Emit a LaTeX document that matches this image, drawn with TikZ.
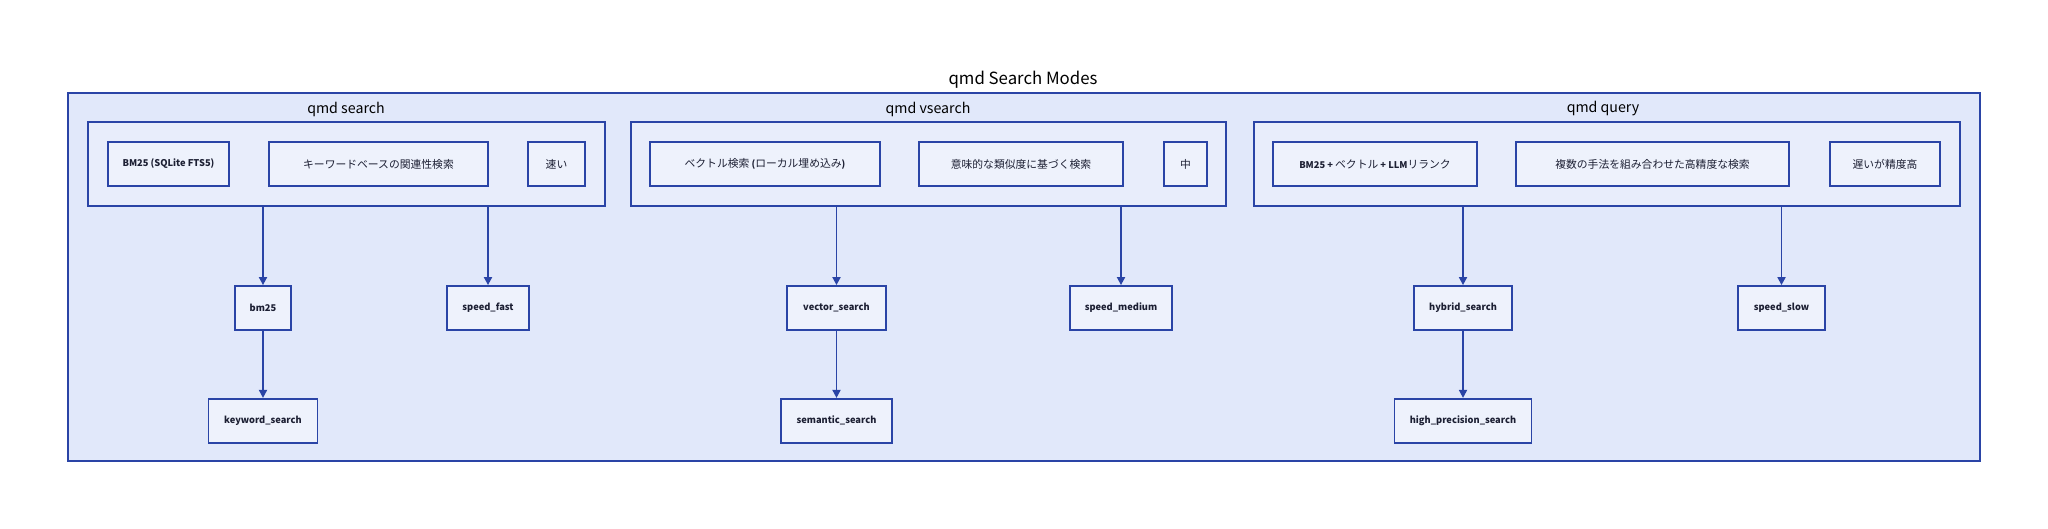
\documentclass[tikz,border=0pt]{standalone}
\usepackage{fontspec}
\setmainfont{Noto Sans CJK JP}
\usetikzlibrary{positioning, arrows.meta}

\definecolor{modeline}{HTML}{2A44A6}
\definecolor{modefill}{HTML}{E1E8FA}
\definecolor{groupfill}{HTML}{E8EDFB}
\definecolor{itemfill}{HTML}{EEF2FC}
\definecolor{itemtext}{HTML}{1C1F33}

\newcommand{\latin}[1]{{\fontsize{4.65}{6}\selectfont\bfseries #1}}

\begin{document}
\begin{tikzpicture}[x=0.5pt, y=-0.5pt,
    item/.style={draw=modeline, fill=itemfill, line width=0.9pt, minimum height=22pt, inner sep=0pt, text=itemtext, font=\fontsize{5.4}{7}\selectfont},
    result/.style={item, font=\fontsize{4.65}{6}\selectfont\bfseries},
    group/.style={draw=modeline, fill=groupfill, line width=0.9pt, minimum height=42pt, inner sep=0pt},
    grouplabel/.style={text=black, font=\fontsize{7.1}{8}\selectfont},
    link/.style={draw=modeline, line width=0.9pt, -{Triangle[length=4pt, width=4pt]}}]
    \useasboundingbox (0,0) rectangle (2048,529);

    \node[font=\fontsize{8.4}{10}\selectfont] (title) at (1023,80) {qmd Search Modes};
    \node[draw=modeline, fill=modefill, line width=0.9pt, minimum width=956pt, minimum height=184pt, inner sep=0pt] (modes) at (1024,277) {};

    \node[group, minimum width=258.5pt] (search) at (346.5,164) {};
    \node[group, minimum width=297.5pt] (vsearch) at (928.5,164) {};
    \node[group, minimum width=353pt] (query) at (1607,164) {};

    \node[grouplabel] (searchlabel) at (346,109) {qmd search};
    \node[grouplabel] (vsearchlabel) at (928,109) {qmd vsearch};
    \node[grouplabel] (querylabel) at (1603,109) {qmd query};

    \node[item, minimum width=60.5pt] (searchengine) at (168.5,164) {\latin{BM25 (SQLite FTS5)}};
    \node[item, minimum width=109.5pt] (searchdesc) at (378.5,164) {キーワードベースの関連性検索};
    \node[item, minimum width=28.5pt] (searchspeed) at (556.5,164) {速い};

    \node[item, minimum width=115pt] (vsearchengine) at (765,164) {ベクトル検索\latin{ (}ローカル埋め込み\latin{)}};
    \node[item, minimum width=102pt] (vsearchdesc) at (1021,164) {意味的な類似度に基づく検索};
    \node[item, minimum width=21.5pt] (vsearchspeed) at (1185.5,164) {中};

    \node[item, minimum width=102pt] (queryengine) at (1375,164) {\latin{BM25 + }ベクトル\latin{ + LLM}リランク};
    \node[item, minimum width=136.5pt] (querydesc) at (1652.5,164) {複数の手法を組み合わせた高精度な検索};
    \node[item, minimum width=55pt] (queryspeed) at (1885,164) {遅いが精度高};

    \node[result, minimum width=28pt] (bm25) at (263,308) {bm25};
    \node[result, minimum width=41pt] (speedfast) at (488,308) {speed\_fast};
    \node[result, minimum width=49.5pt] (vectorsearch) at (836.5,308) {vector\_search};
    \node[result, minimum width=51pt] (speedmedium) at (1121,308) {speed\_medium};
    \node[result, minimum width=49pt] (hybridsearch) at (1463,308) {hybrid\_search};
    \node[result, minimum width=43.5pt] (speedslow) at (1781.5,308) {speed\_slow};

    \node[result, minimum width=54.5pt, below=33.5pt of bm25] (keywordsearch) {keyword\_search};
    \node[result, minimum width=55.5pt, below=33.5pt of vectorsearch] (semanticsearch) {semantic\_search};
    \node[result, minimum width=68.5pt, below=33.5pt of hybridsearch] (precisionsearch) {high\_precision\_search};

    \draw[link] (bm25 |- search.south) -- (bm25);
    \draw[link] (speedfast |- search.south) -- (speedfast);
    \draw[link] (vectorsearch |- vsearch.south) -- (vectorsearch);
    \draw[link] (speedmedium |- vsearch.south) -- (speedmedium);
    \draw[link] (hybridsearch |- query.south) -- (hybridsearch);
    \draw[link] (speedslow |- query.south) -- (speedslow);
    \draw[link] (bm25) -- (keywordsearch);
    \draw[link] (vectorsearch) -- (semanticsearch);
    \draw[link] (hybridsearch) -- (precisionsearch);

\end{tikzpicture}
\end{document}
